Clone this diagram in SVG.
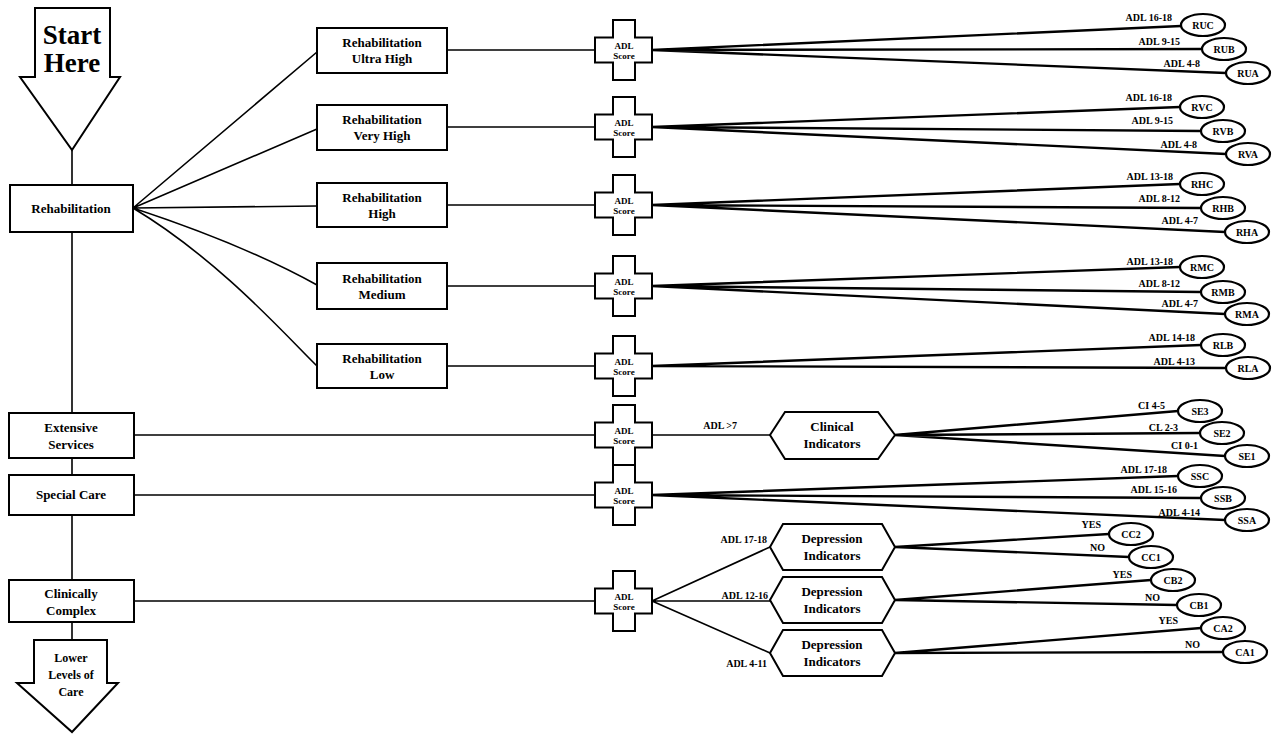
<svg xmlns="http://www.w3.org/2000/svg" width="1272" height="734" viewBox="0 0 1272 734">
<style>
.bx{fill:#fff;stroke:#000;stroke-width:2}
.ln{fill:none;stroke:#000;stroke-width:1.6}
.lt{fill:none;stroke:#000;stroke-width:2.4}
.t{font-family:"Liberation Serif",serif;font-weight:bold;font-size:13px;text-anchor:middle;fill:#000}
.s{font-family:"Liberation Serif",serif;font-weight:bold;font-size:9px;text-anchor:middle;fill:#000}
.l{font-family:"Liberation Serif",serif;font-weight:bold;font-size:10px;text-anchor:end;fill:#000}
.o{font-family:"Liberation Serif",serif;font-weight:bold;font-size:10px;text-anchor:middle;fill:#000}
.ov{fill:#fff;stroke:#000;stroke-width:2.2}
</style>
<rect width="1272" height="734" fill="#fff"/>
<g id="connectors">
<path class="ln" d="M72,150V185 M72,232V413 M72,458V475 M72,515V580 M72,622V640"/>
<path class="ln" d="M133,208L317,52 M133,208L317,129 M133,208L317,206 M133,208C230,240 290,270 317,285 M133,208C220,260 290,340 317,366"/>
<path class="ln" d="M447,50H595 M447,127H595 M447,205H595 M447,286H595 M447,366H595 M134,435H595 M134,495H595 M134,601H595"/>
<path class="ln" d="M652,435H770 M652,601L770,547 M652,601H770 M652,601L770,653"/>
<path class="lt" d="M652,50L1181,26 M652,50L1202,49 M652,50L1226,73
M652,127L1180,107 M652,127L1201,131 M652,127L1226,154
M652,205L1180,184 M652,205L1201,208 M652,205L1225,232
M652,286L1180,267 M652,286L1201,292 M652,286L1225,314
M652,366L1201,345 M652,366L1226,368
M895,435L1178,411 M895,435L1200,433 M895,435L1225,456
M652,495L1178,476 M652,495L1201,498 M652,495L1225,520
M895,547L1109,534 M895,547L1129,557
M895,600L1151,580 M895,600L1177,605
M895,653L1201,628 M895,653L1223,652"/>
</g>
<g id="start">
<path class="bx" d="M35,8H110V77H120L72,150L20,77H35Z"/>
<text x="72" y="44" class="t" style="font-size:27px">Start</text>
<text x="72" y="72" class="t" style="font-size:27px">Here</text>
</g>
<g id="rehab"><rect class="bx" x="10" y="185" width="123" height="47"/><text class="t" x="71" y="213">Rehabilitation</text></g>
<g id="ext"><rect class="bx" x="9" y="413" width="125" height="45"/><text class="t" x="71" y="432">Extensive</text><text class="t" x="71" y="449">Services</text></g>
<g id="spc"><rect class="bx" x="9" y="475" width="125" height="40"/><text class="t" x="71" y="499">Special Care</text></g>
<g id="cc"><rect class="bx" x="9" y="580" width="125" height="42"/><text class="t" x="71" y="598">Clinically</text><text class="t" x="71" y="615">Complex</text></g>
<g id="lower">
<path class="bx" d="M34,640H107V683H118L72,732L17,683H34Z"/>
<text class="t" x="71" y="662" style="font-size:12px">Lower</text>
<text class="t" x="71" y="679" style="font-size:12px">Levels of</text>
<text class="t" x="71" y="696" style="font-size:12px">Care</text>
</g>
<g id="ruh"><rect class="bx" x="317" y="28" width="130" height="45"/><text class="t" x="382" y="47">Rehabilitation</text><text class="t" x="382" y="63">Ultra High</text></g>
<g id="rvh"><rect class="bx" x="317" y="105" width="130" height="45"/><text class="t" x="382" y="124">Rehabilitation</text><text class="t" x="382" y="140">Very High</text></g>
<g id="rh"><rect class="bx" x="317" y="183" width="130" height="44"/><text class="t" x="382" y="202">Rehabilitation</text><text class="t" x="382" y="218">High</text></g>
<g id="rm"><rect class="bx" x="317" y="263" width="130" height="46"/><text class="t" x="382" y="283">Rehabilitation</text><text class="t" x="382" y="299">Medium</text></g>
<g id="rl"><rect class="bx" x="317" y="344" width="130" height="44"/><text class="t" x="382" y="363">Rehabilitation</text><text class="t" x="382" y="379">Low</text></g>
<g id="adl1" transform="translate(624,50)"><path class="bx" d="M-11,-30H11V-12.5H28V12.5H11V30H-11V12.5H-29V-12.5H-11Z"/><text class="s" y="-1">ADL</text><text class="s" y="9">Score</text></g>
<g id="adl2" transform="translate(624,127)"><path class="bx" d="M-11,-30H11V-12.5H28V12.5H11V30H-11V12.5H-29V-12.5H-11Z"/><text class="s" y="-1">ADL</text><text class="s" y="9">Score</text></g>
<g id="adl3" transform="translate(624,205)"><path class="bx" d="M-11,-30H11V-12.5H28V12.5H11V30H-11V12.5H-29V-12.5H-11Z"/><text class="s" y="-1">ADL</text><text class="s" y="9">Score</text></g>
<g id="adl4" transform="translate(624,286)"><path class="bx" d="M-11,-30H11V-12.5H28V12.5H11V30H-11V12.5H-29V-12.5H-11Z"/><text class="s" y="-1">ADL</text><text class="s" y="9">Score</text></g>
<g id="adl5" transform="translate(624,366)"><path class="bx" d="M-11,-30H11V-12.5H28V12.5H11V30H-11V12.5H-29V-12.5H-11Z"/><text class="s" y="-1">ADL</text><text class="s" y="9">Score</text></g>
<g id="adl6" transform="translate(624,435)"><path class="bx" d="M-11,-30H11V-12.5H28V12.5H11V30H-11V12.5H-29V-12.5H-11Z"/><text class="s" y="-1">ADL</text><text class="s" y="9">Score</text></g>
<g id="adl7" transform="translate(624,495)"><path class="bx" d="M-11,-30H11V-12.5H28V12.5H11V30H-11V12.5H-29V-12.5H-11Z"/><text class="s" y="-1">ADL</text><text class="s" y="9">Score</text></g>
<g id="adl8" transform="translate(624,601)"><path class="bx" d="M-11,-30H11V-12.5H28V12.5H11V30H-11V12.5H-29V-12.5H-11Z"/><text class="s" y="-1">ADL</text><text class="s" y="9">Score</text></g>
<g id="clin"><path class="bx" d="M770,435L785,412H878L895,435L878,459H785Z"/><text class="t" x="832" y="431">Clinical</text><text class="t" x="832" y="448">Indicators</text></g>
<g id="dep1"><path class="bx" d="M770,547L783,524H882L895,547L882,570H783Z"/><text class="t" x="832" y="543">Depression</text><text class="t" x="832" y="560">Indicators</text></g>
<g id="dep2"><path class="bx" d="M770,600L783,577H882L895,600L882,623H783Z"/><text class="t" x="832" y="596">Depression</text><text class="t" x="832" y="613">Indicators</text></g>
<g id="dep3"><path class="bx" d="M770,653L783,630H882L895,653L882,676H783Z"/><text class="t" x="832" y="649">Depression</text><text class="t" x="832" y="666">Indicators</text></g>
<g id="labels">
<text class="l" x="1172" y="21">ADL 16-18</text><text class="l" x="1180" y="45">ADL 9-15</text><text class="l" x="1200" y="67">ADL 4-8</text>
<text class="l" x="1172" y="101">ADL 16-18</text><text class="l" x="1173" y="124">ADL 9-15</text><text class="l" x="1197" y="148">ADL 4-8</text>
<text class="l" x="1173" y="180">ADL 13-18</text><text class="l" x="1180" y="202">ADL 8-12</text><text class="l" x="1198" y="224">ADL 4-7</text>
<text class="l" x="1173" y="265">ADL 13-18</text><text class="l" x="1180" y="287">ADL 8-12</text><text class="l" x="1198" y="307">ADL 4-7</text>
<text class="l" x="1195" y="341">ADL 14-18</text><text class="l" x="1195" y="365">ADL 4-13</text>
<text class="l" x="737" y="429">ADL &gt;7</text>
<text class="l" x="1165" y="409">CI 4-5</text><text class="l" x="1178" y="431">CL 2-3</text><text class="l" x="1198" y="449">CI 0-1</text>
<text class="l" x="1167" y="473">ADL 17-18</text><text class="l" x="1177" y="493">ADL 15-16</text><text class="l" x="1200" y="516">ADL 4-14</text>
<text class="l" x="767" y="543">ADL 17-18</text><text class="l" x="768" y="599">ADL 12-16</text><text class="l" x="767" y="667">ADL 4-11</text>
<text class="l" x="1101" y="528">YES</text><text class="l" x="1105" y="551">NO</text>
<text class="l" x="1132" y="578">YES</text><text class="l" x="1160" y="601">NO</text>
<text class="l" x="1178" y="624">YES</text><text class="l" x="1200" y="648">NO</text>
</g>
<g id="ruc"><ellipse class="ov" cx="1203" cy="25" rx="22" ry="11"/><text class="o" x="1203" y="29">RUC</text></g>
<g id="rub"><ellipse class="ov" cx="1224" cy="49" rx="22" ry="11"/><text class="o" x="1224" y="53">RUB</text></g>
<g id="rua"><ellipse class="ov" cx="1248" cy="73" rx="22" ry="11"/><text class="o" x="1248" y="77">RUA</text></g>
<g id="rvc"><ellipse class="ov" cx="1202" cy="107" rx="22" ry="11"/><text class="o" x="1202" y="111">RVC</text></g>
<g id="rvb"><ellipse class="ov" cx="1223" cy="131" rx="22" ry="11"/><text class="o" x="1223" y="135">RVB</text></g>
<g id="rva"><ellipse class="ov" cx="1248" cy="154" rx="22" ry="11"/><text class="o" x="1248" y="158">RVA</text></g>
<g id="rhc"><ellipse class="ov" cx="1202" cy="184" rx="22" ry="11"/><text class="o" x="1202" y="188">RHC</text></g>
<g id="rhb"><ellipse class="ov" cx="1223" cy="208" rx="22" ry="11"/><text class="o" x="1223" y="212">RHB</text></g>
<g id="rha"><ellipse class="ov" cx="1247" cy="232" rx="22" ry="11"/><text class="o" x="1247" y="236">RHA</text></g>
<g id="rmc"><ellipse class="ov" cx="1202" cy="267" rx="22" ry="11"/><text class="o" x="1202" y="271">RMC</text></g>
<g id="rmb"><ellipse class="ov" cx="1223" cy="292" rx="22" ry="11"/><text class="o" x="1223" y="296">RMB</text></g>
<g id="rma"><ellipse class="ov" cx="1247" cy="314" rx="22" ry="11"/><text class="o" x="1247" y="318">RMA</text></g>
<g id="rlb"><ellipse class="ov" cx="1223" cy="345" rx="22" ry="11"/><text class="o" x="1223" y="349">RLB</text></g>
<g id="rla"><ellipse class="ov" cx="1248" cy="368" rx="22" ry="11"/><text class="o" x="1248" y="372">RLA</text></g>
<g id="se3"><ellipse class="ov" cx="1200" cy="411" rx="22" ry="11"/><text class="o" x="1200" y="415">SE3</text></g>
<g id="se2"><ellipse class="ov" cx="1222" cy="433" rx="22" ry="11"/><text class="o" x="1222" y="437">SE2</text></g>
<g id="se1"><ellipse class="ov" cx="1247" cy="456" rx="22" ry="11"/><text class="o" x="1247" y="460">SE1</text></g>
<g id="ssc"><ellipse class="ov" cx="1200" cy="476" rx="22" ry="11"/><text class="o" x="1200" y="480">SSC</text></g>
<g id="ssb"><ellipse class="ov" cx="1223" cy="498" rx="22" ry="11"/><text class="o" x="1223" y="502">SSB</text></g>
<g id="ssa"><ellipse class="ov" cx="1247" cy="520" rx="22" ry="11"/><text class="o" x="1247" y="524">SSA</text></g>
<g id="cc2"><ellipse class="ov" cx="1131" cy="534" rx="22" ry="11"/><text class="o" x="1131" y="538">CC2</text></g>
<g id="cc1"><ellipse class="ov" cx="1151" cy="557" rx="22" ry="11"/><text class="o" x="1151" y="561">CC1</text></g>
<g id="cb2"><ellipse class="ov" cx="1173" cy="580" rx="22" ry="11"/><text class="o" x="1173" y="584">CB2</text></g>
<g id="cb1"><ellipse class="ov" cx="1199" cy="605" rx="22" ry="11"/><text class="o" x="1199" y="609">CB1</text></g>
<g id="ca2"><ellipse class="ov" cx="1223" cy="628" rx="22" ry="11"/><text class="o" x="1223" y="632">CA2</text></g>
<g id="ca1"><ellipse class="ov" cx="1245" cy="652" rx="22" ry="11"/><text class="o" x="1245" y="656">CA1</text></g>
</svg>
